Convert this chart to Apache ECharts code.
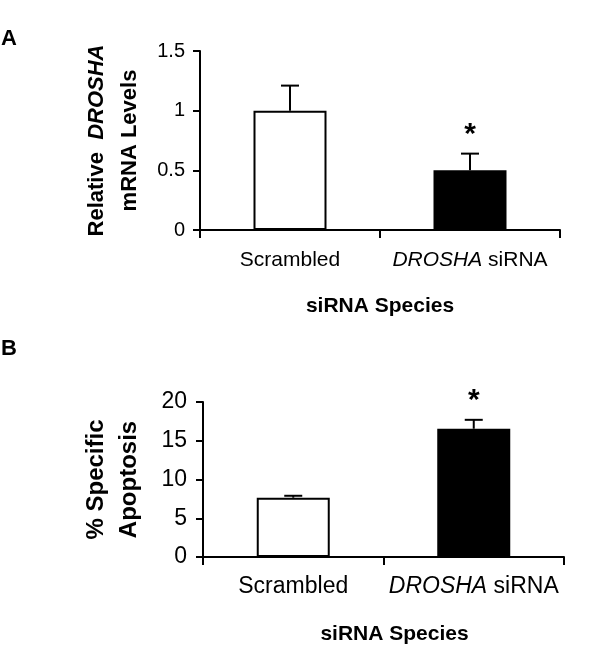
<!DOCTYPE html>
<html>
<head>
<meta charset="utf-8">
<script src="https://cdn.jsdelivr.net/npm/echarts@6/dist/echarts.min.js"></script>
<style>html,body{margin:0;padding:0;background:#fff;}#c{width:600px;height:659px;}</style>
</head>
<body>
<div id="c"></div>
<script>
const categories = ['Scrambled', 'DROSHA siRNA'];
const barColors = ['#ffffff', '#000000'];
const mrnaMean = [1.0, 0.50];
const mrnaErr = [0.21, 0.14];
const mrnaSig = [false, true];
const apopMean = [7.65, 16.55];
const apopErr = [0.25, 1.15];
const apopSig = [false, true];
const mrnaAxis = { min: 0, max: 1.5, interval: 0.5 };
const apopAxis = { min: 0, max: 20, interval: 5 };

const FONT = '"Liberation Sans", Arial, sans-serif';

function errData(mean, err, sig) {
  return mean.map((m, i) => [i, m, err[i], sig[i] ? 1 : 0]);
}
function renderErr(params, api) {
  const i = api.value(0), m = api.value(1), e = api.value(2), s = api.value(3);
  const p0 = api.coord([i, m]);
  const p1 = api.coord([i, m + e]);
  const hw = 9;
  const st = { stroke: '#000', lineWidth: 2 };
  const children = [
    { type: 'line', shape: { x1: p0[0], y1: p0[1], x2: p1[0], y2: p1[1] }, style: st },
    { type: 'line', shape: { x1: p1[0] - hw, y1: p1[1], x2: p1[0] + hw, y2: p1[1] }, style: st }
  ];
  if (s) {
    children.push({ type: 'text', style: { text: '*', x: p1[0], y: p1[1] - 4, fill: '#000',
      font: 'bold 30px ' + FONT, textAlign: 'center', textVerticalAlign: 'bottom' } });
  }
  return { type: 'group', children };
}
function catLabel(size, margin) {
  return {
    fontFamily: FONT, fontSize: size, color: '#000', margin: margin, interval: 0,
    formatter: v => v === 'DROSHA siRNA' ? '{i|DROSHA} siRNA' : v,
    rich: { i: { fontFamily: FONT, fontSize: size, fontStyle: 'italic', color: '#000' } }
  };
}
const axisLine = { show: true, lineStyle: { color: '#000', width: 2 } };
const tickStyle = { show: true, lineStyle: { color: '#000', width: 2 } };

const option = {
  backgroundColor: '#fff',
  animation: false,
  title: [
    { text: 'A', left: -4, top: 23, textStyle: { fontFamily: FONT, fontSize: 22, fontWeight: 'bold', color: '#000' } },
    { text: 'B', left: -4, top: 333, textStyle: { fontFamily: FONT, fontSize: 22, fontWeight: 'bold', color: '#000' } }
  ],
  grid: [
    { left: 200, right: 40, top: 51, bottom: 429 },
    { left: 203, right: 36, top: 402, bottom: 102 }
  ],
  xAxis: [
    { type: 'category', gridIndex: 0, data: categories, axisLine, axisTick: Object.assign({ length: 8 }, tickStyle),
      axisLabel: catLabel(21, 20), name: 'siRNA Species', nameLocation: 'middle', nameGap: 66,
      nameTextStyle: { fontFamily: FONT, fontSize: 21, fontWeight: 'bold', color: '#000' } },
    { type: 'category', gridIndex: 1, data: categories, axisLine, axisTick: Object.assign({ length: 8 }, tickStyle),
      axisLabel: catLabel(23, 18), name: 'siRNA Species', nameLocation: 'middle', nameGap: 67,
      nameTextStyle: { fontFamily: FONT, fontSize: 21, fontWeight: 'bold', color: '#000', padding: [0, 0, 0, 22] } }
  ],
  yAxis: [
    { type: 'value', gridIndex: 0, min: mrnaAxis.min, max: mrnaAxis.max, interval: mrnaAxis.interval,
      axisLine, axisTick: Object.assign({ length: 7 }, tickStyle), splitLine: { show: false },
      axisLabel: { fontFamily: FONT, fontSize: 20, color: '#000', margin: 15 },
      name: '{b|Relative  }{bi|DROSHA}\n{b|mRNA Levels}', nameLocation: 'middle', nameRotate: 90, nameGap: 54,
      nameTextStyle: { lineHeight: 33, padding: [0, 0, 0, 0], rich: {
        b: { fontFamily: FONT, fontSize: 22, fontWeight: 'bold', color: '#000', lineHeight: 33 },
        bi: { fontFamily: FONT, fontSize: 22, fontWeight: 'bold', fontStyle: 'italic', color: '#000', lineHeight: 33 } } } },
    { type: 'value', gridIndex: 1, min: apopAxis.min, max: apopAxis.max, interval: apopAxis.interval,
      axisLine, axisTick: Object.assign({ length: 7 }, tickStyle), splitLine: { show: false },
      axisLabel: { fontFamily: FONT, fontSize: 23, color: '#000', margin: 16 },
      name: '% Specific\nApoptosis', nameLocation: 'middle', nameRotate: 90, nameGap: 57,
      nameTextStyle: { fontFamily: FONT, fontSize: 24, fontWeight: 'bold', color: '#000', lineHeight: 33 } }
  ],
  series: [
    { type: 'bar', xAxisIndex: 0, yAxisIndex: 0, barWidth: 73,
      data: mrnaMean.map((v, i) => ({ value: v, itemStyle: { color: barColors[i], borderColor: '#000', borderWidth: 2 } })) },
    { type: 'custom', xAxisIndex: 0, yAxisIndex: 0, renderItem: renderErr, data: errData(mrnaMean, mrnaErr, mrnaSig), z: 5 },
    { type: 'bar', xAxisIndex: 1, yAxisIndex: 1, barWidth: 73,
      data: apopMean.map((v, i) => ({ value: v, itemStyle: { color: barColors[i], borderColor: '#000', borderWidth: 2 } })) },
    { type: 'custom', xAxisIndex: 1, yAxisIndex: 1, renderItem: renderErr, data: errData(apopMean, apopErr, apopSig), z: 5 }
  ]
};
const chart = echarts.init(document.getElementById('c'), null, { renderer: 'canvas' });
chart.setOption(option);
</script>
</body>
</html>
